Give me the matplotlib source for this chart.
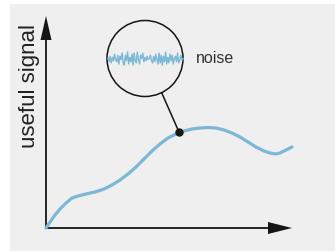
import numpy as np
import matplotlib.pyplot as plt
from matplotlib.patches import Circle, Polygon, Rectangle

# signal curve (pixel units, y down)
sig_x = [46, 50, 55, 60, 66, 72, 78, 86, 95, 104, 112, 120, 128, 136, 144, 152,
         160, 168, 176, 184, 192, 200, 208, 216, 224, 232, 240, 248, 256, 264,
         270, 276, 280, 286, 292]
sig_y = [229, 223, 216, 210, 204, 199, 197, 195, 193, 190, 186, 181, 175, 168,
         160, 152, 145, 139, 135, 132, 130, 129, 128.5, 129, 131, 134, 138, 143,
         148, 152, 154, 155, 154, 151, 148]

# noise trace inside the magnifier
noise_v = [0, 3, -2, 4, -1, 2, -4, 1, 3, -3, 5, -2, 1, -5, 4, 6, -3, 2, -6, 5,
           -1, 3, -4, 6, -5, 2, 4, -6, 1, 5, -3, 0, -5, 3, -1, 2, -2, 1, 0, -3,
           2, 4, -2, 3, -4, 1, 5, -5, 4, -3, 6, -2, 3, -6, 5, -1, 4, -4, 2, -3,
           5, 0, -2, 3, -5, 4, 1, -3, 2, 0]

label_y = 'useful signal'
label_noise = 'noise'

blue = '#7bb8d5'
ink = '#151515'

fig = plt.figure(figsize=(3.35, 2.53), dpi=100)
ax = fig.add_axes([0, 0, 1, 1])
ax.set_xlim(0, 335)
ax.set_ylim(253, 0)
ax.axis('off')

ax.add_patch(Rectangle((10, 5), 325, 247, color='#efefef', lw=0, zorder=0))

# axes with arrows
ax.plot([46, 46], [229, 38], color=ink, lw=1.3, solid_capstyle='butt')
ax.plot([46, 270], [229, 229], color=ink, lw=1.3, solid_capstyle='butt')
ax.add_patch(Polygon([[40.5, 41], [51.5, 41], [46, 17]], color=ink, lw=0))
ax.add_patch(Polygon([[268, 223], [268, 235], [292, 229]], color=ink, lw=0))

ax.plot(sig_x, sig_y, color=blue, lw=2.3, solid_capstyle='round', zorder=3)

# magnifier
cx, cy, r = 145, 59.5, 38
ax.add_patch(Circle((cx, cy), r, fill=False, ec=ink, lw=1.1, zorder=4))
nx = np.linspace(108, 183, len(noise_v))
ax.plot(nx, cy + np.array(noise_v) * 1.1, color=blue, lw=1.0, zorder=4)
ax.plot([162, 179], [94.5, 133], color=ink, lw=1.1, zorder=4)
ax.plot([179], [133], 'o', color=ink, ms=5, zorder=5)

ax.text(196, 58, label_noise, fontsize=11.5, color='#333333',
        family='Liberation Sans', va='center', ha='left')
ax.text(29, 86, label_y, fontsize=16, color='#222222', family='Liberation Sans',
        rotation=90, va='center', ha='center')

fig.savefig('out.png', dpi=100)
